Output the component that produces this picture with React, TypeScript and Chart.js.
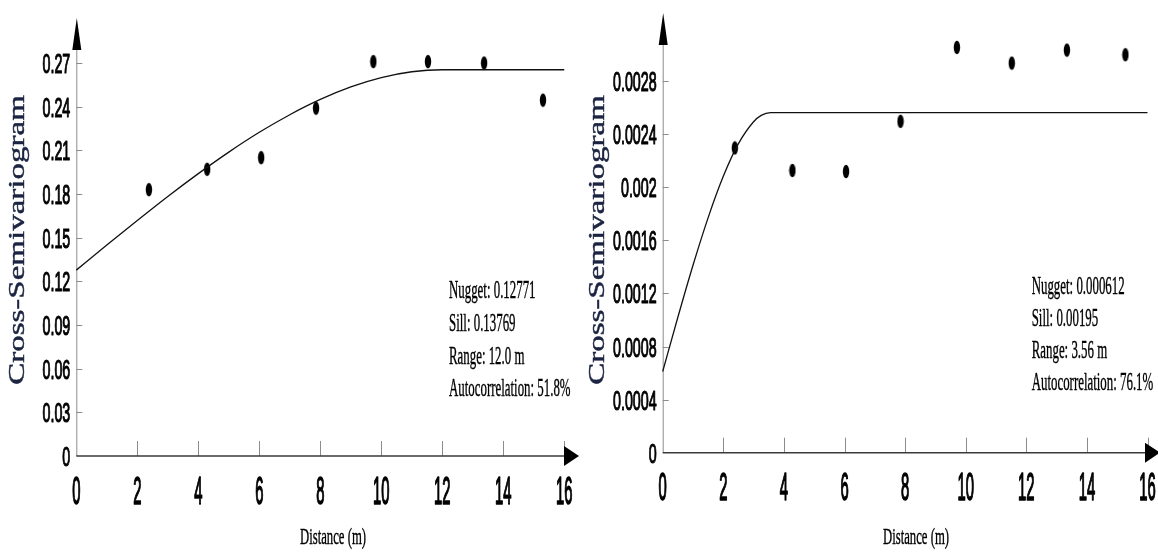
import React, { useEffect, useRef } from "react";
import { Chart, registerables } from "chart.js";

Chart.register(...registerables);

// Shared distance axis
const DIST_TICKS = [2, 4, 6, 8, 10, 12, 14, 16];
const DIST_LABELS = ["0", "2", "4", "6", "8", "10", "12", "14", "16"];
const DIST_LABEL_VALUES = [0, 2, 4, 6, 8, 10, 12, 14, 16];

// Panel A: experimental semivariogram
const A_LAG = [2.38, 4.29, 6.06, 7.86, 9.74, 11.53, 13.37, 15.3];
const A_GAMMA = [0.183, 0.197, 0.205, 0.239, 0.271, 0.271, 0.27, 0.2445];
// Panel A: fitted model (nugget 0.12771, sill 0.13769, range 12.0 m)
const A_MODEL_H = [0, 1, 2, 3, 4, 5, 6, 7, 8, 9, 10, 11, 12, 16];
const A_MODEL_G = [
  0.12771, 0.1449, 0.1618, 0.1783, 0.194, 0.2088, 0.2224, 0.2345, 0.245, 0.2536,
  0.26, 0.264, 0.2654, 0.2654,
];
const A_Y_TICKS = [0, 0.03, 0.06, 0.09, 0.12, 0.15, 0.18, 0.21, 0.24, 0.27];
const A_Y_LABELS = ["0", "0.03", "0.06", "0.09", "0.12", "0.15", "0.18", "0.21", "0.24", "0.27"];
const A_STATS = ["Nugget: 0.12771", "Sill: 0.13769", "Range: 12.0 m", "Autocorrelation: 51.8%"];

// Panel B: experimental semivariogram
const B_LAG = [2.38, 4.28, 6.05, 7.85, 9.71, 11.52, 13.34, 15.27];
const B_GAMMA = [0.002296, 0.002126, 0.002118, 0.002496, 0.003053, 0.002935, 0.003033, 0.002998];
// Panel B: fitted model (nugget 0.000612, sill 0.00195, range 3.56 m)
const B_MODEL_H = [0, 0.5, 1, 1.5, 2, 2.5, 3, 3.25, 3.56, 16];
const B_MODEL_G = [
  0.000612, 0.00102, 0.001412, 0.001771, 0.002082, 0.002328, 0.002493, 0.002541, 0.002562,
  0.002562,
];
const B_Y_TICKS = [0, 0.0004, 0.0008, 0.0012, 0.0016, 0.002, 0.0024, 0.0028];
const B_Y_LABELS = ["0", "0.0004", "0.0008", "0.0012", "0.0016", "0.002", "0.0024", "0.0028"];
const B_STATS = ["Nugget: 0.000612", "Sill: 0.00195", "Range: 3.56 m", "Autocorrelation: 76.1%"];

const Y_TITLE = "Cross-Semivariogram";
const X_TITLE = "Distance (m)";

const SANS = "'Liberation Sans', Arial, sans-serif";
const SERIF = "'Liberation Serif', 'Times New Roman', serif";

type PanelCfg = {
  left: number;
  width: number;
  pad: { left: number; right: number; top: number; bottom: number };
  yMax: number;
  lag: number[];
  gamma: number[];
  modelH: number[];
  modelG: number[];
  yTicks: number[];
  yLabels: string[];
  stats: string[];
  statsX: number;
  statsBaselines: number[];
  yTitleX: number;
  yTitleCenter: number;
  yArrowTip: number;
  xArrowTip: number;
  xTitleX: number;
};

// the plotting area reaches a little above the top tick so the highest dots stay inside it
const PANEL_A: PanelCfg = {
  left: 0,
  width: 585,
  pad: { left: 76.3, right: 20.7, top: 41.2, bottom: 98 },
  yMax: 0.285,
  lag: A_LAG,
  gamma: A_GAMMA,
  modelH: A_MODEL_H,
  modelG: A_MODEL_G,
  yTicks: A_Y_TICKS,
  yLabels: A_Y_LABELS,
  stats: A_STATS,
  statsX: 449,
  statsBaselines: [297.5, 331, 363.5, 396],
  yTitleX: 24,
  yTitleCenter: 240,
  yArrowTip: 18,
  xArrowTip: 579,
  xTitleX: 333,
};

const PANEL_B: PanelCfg = {
  left: 585,
  width: 573,
  pad: { left: 77.7, right: 10.5, top: 27.9, bottom: 101.3 },
  yMax: 0.0032,
  lag: B_LAG,
  gamma: B_GAMMA,
  modelH: B_MODEL_H,
  modelG: B_MODEL_G,
  yTicks: B_Y_TICKS,
  yLabels: B_Y_LABELS,
  stats: B_STATS,
  statsX: 446.7,
  statsBaselines: [293.5, 326, 358, 390],
  yTitleX: 19,
  yTitleCenter: 240,
  yArrowTip: 13,
  xArrowTip: 575,
  xTitleX: 331,
};

// text drawn narrow and slightly heavy, like the condensed labels of the figure
function squeezed(
  ctx: CanvasRenderingContext2D,
  text: string,
  x: number,
  y: number,
  sx: number,
  font: string,
  align: CanvasTextAlign,
  weight = 0
) {
  ctx.save();
  ctx.translate(x, y);
  ctx.scale(sx, 1);
  ctx.font = font;
  ctx.textAlign = align;
  ctx.textBaseline = "alphabetic";
  ctx.fillStyle = "#000";
  ctx.fillText(text, 0, 0);
  if (weight > 0) {
    ctx.strokeStyle = "#000";
    ctx.lineWidth = weight;
    ctx.lineJoin = "round";
    ctx.strokeText(text, 0, 0);
  }
  ctx.restore();
}

function makeAxesPlugin(cfg: PanelCfg) {
  return {
    id: "arrowAxes",
    beforeDatasetsDraw(chart: any) {
      const ctx: CanvasRenderingContext2D = chart.ctx;
      const xs = chart.scales.x;
      const ys = chart.scales.y;
      const x0 = xs.getPixelForValue(0);
      const y0 = ys.getPixelForValue(0);

      ctx.save();
      // vertical axis
      ctx.strokeStyle = "#8c8c8c";
      ctx.lineWidth = 1;
      ctx.beginPath();
      ctx.moveTo(x0 + 0.5, y0);
      ctx.lineTo(x0 + 0.5, cfg.yArrowTip + 20);
      ctx.stroke();
      // y ticks
      cfg.yTicks.forEach((v) => {
        if (v === 0) return;
        const py = Math.round(ys.getPixelForValue(v)) + 0.5;
        ctx.beginPath();
        ctx.moveTo(x0, py);
        ctx.lineTo(x0 + 6, py);
        ctx.stroke();
      });
      // x ticks (inward)
      DIST_TICKS.forEach((v) => {
        const px = Math.round(xs.getPixelForValue(v)) + 0.5;
        ctx.beginPath();
        ctx.moveTo(px, y0);
        ctx.lineTo(px, y0 - 15);
        ctx.stroke();
      });
      // horizontal axis
      ctx.strokeStyle = "#3a3a3a";
      ctx.lineWidth = 1.6;
      ctx.beginPath();
      ctx.moveTo(x0, y0);
      ctx.lineTo(cfg.xArrowTip - 6, y0);
      ctx.stroke();

      // arrow heads
      ctx.fillStyle = "#000";
      ctx.beginPath();
      ctx.moveTo(x0 + 0.5, cfg.yArrowTip);
      ctx.lineTo(x0 + 5, cfg.yArrowTip + 32);
      ctx.lineTo(x0 - 4, cfg.yArrowTip + 32);
      ctx.closePath();
      ctx.fill();
      ctx.beginPath();
      ctx.moveTo(cfg.xArrowTip, y0);
      ctx.lineTo(cfg.xArrowTip - 15, y0 - 10);
      ctx.lineTo(cfg.xArrowTip - 15, y0 + 10);
      ctx.closePath();
      ctx.fill();

      // y tick labels
      cfg.yTicks.forEach((v, i) => {
        const py = ys.getPixelForValue(v);
        squeezed(ctx, cfg.yLabels[i], x0 - 6, py + 10, 0.51, `28px ${SANS}`, "right", 1.2);
      });
      // x tick labels
      DIST_LABEL_VALUES.forEach((v, i) => {
        const px = xs.getPixelForValue(v);
        squeezed(ctx, DIST_LABELS[i], px, y0 + 47.5, 0.39, `38px ${SANS}`, "center", 1.6);
      });
      // x title
      squeezed(ctx, X_TITLE, cfg.xTitleX, 544, 0.53, `24px ${SERIF}`, "center", 0.4);
      // model statistics
      cfg.stats.forEach((s, i) => {
        squeezed(ctx, s, cfg.statsX, cfg.statsBaselines[i], 0.515, `25px ${SERIF}`, "left", 0.4);
      });
      // rotated y title
      ctx.save();
      ctx.translate(cfg.yTitleX, cfg.yTitleCenter);
      ctx.rotate(-Math.PI / 2);
      ctx.scale(1, 0.72);
      ctx.font = `33px ${SERIF}`;
      ctx.textAlign = "center";
      ctx.textBaseline = "alphabetic";
      ctx.fillStyle = "#1b2440";
      ctx.fillText(Y_TITLE, 0, 0);
      ctx.strokeStyle = "#1b2440";
      ctx.lineWidth = 0.6;
      ctx.strokeText(Y_TITLE, 0, 0);
      ctx.restore();

      ctx.restore();
    },
  };
}

function makeDot(): HTMLCanvasElement {
  const c = document.createElement("canvas");
  c.width = 8;
  c.height = 15;
  const g = c.getContext("2d")!;
  g.fillStyle = "#000";
  g.beginPath();
  g.ellipse(4, 7.5, 3.2, 6.8, 0, 0, Math.PI * 2);
  g.fill();
  return c;
}

function Panel({ cfg }: { cfg: PanelCfg }) {
  const ref = useRef<HTMLCanvasElement | null>(null);

  useEffect(() => {
    if (!ref.current) return;
    const dot = makeDot();
    const chart = new Chart(ref.current, {
      type: "scatter",
      data: {
        datasets: [
          {
            type: "line",
            data: cfg.modelH.map((h, i) => ({ x: h, y: cfg.modelG[i] })),
            borderColor: "#111",
            borderWidth: 1.3,
            pointRadius: 0,
            fill: false,
            cubicInterpolationMode: "monotone",
            clip: false,
          } as any,
          {
            type: "scatter",
            data: cfg.lag.map((h, i) => ({ x: h, y: cfg.gamma[i] })),
            pointStyle: dot as any,
            pointRadius: 4,
            backgroundColor: "#000",
            borderColor: "#000",
            clip: false,
          } as any,
        ],
      },
      options: {
        animation: false,
        responsive: false,
        maintainAspectRatio: false,
        devicePixelRatio: 1,
        layout: { padding: cfg.pad },
        plugins: { legend: { display: false }, tooltip: { enabled: false }, title: { display: false } },
        scales: {
          x: { type: "linear", min: 0, max: 16, display: false },
          y: { type: "linear", min: 0, max: cfg.yMax, display: false },
        },
      },
      plugins: [makeAxesPlugin(cfg)],
    });
    return () => chart.destroy();
  }, [cfg]);

  return (
    <canvas
      ref={ref}
      width={cfg.width}
      height={554}
      style={{ position: "absolute", left: cfg.left, top: 0, width: cfg.width, height: 554 }}
    />
  );
}

export default function App() {
  return (
    <div
      style={{
        position: "fixed",
        left: 0,
        top: 0,
        width: 1158,
        height: 554,
        background: "#fff",
        overflow: "hidden",
      }}
    >
      <Panel cfg={PANEL_A} />
      <Panel cfg={PANEL_B} />
    </div>
  );
}
